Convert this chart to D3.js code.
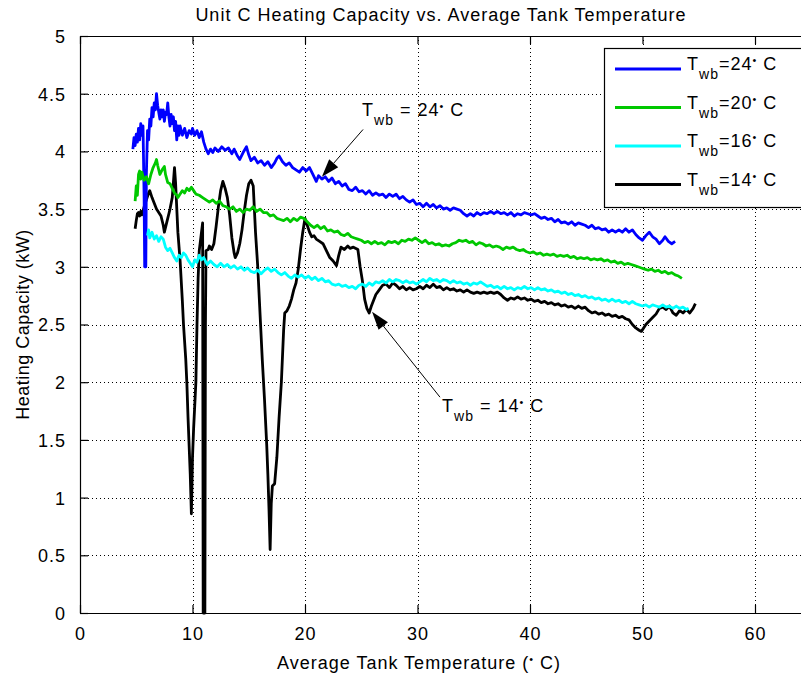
<!DOCTYPE html>
<html>
<head>
<meta charset="utf-8">
<script src="https://cdn.jsdelivr.net/npm/d3@7"></script>
<style>
  html, body { margin: 0; padding: 0; background: #fff; }
  svg { display: block; }
  text { font-family: "Liberation Sans", Arial, Helvetica, sans-serif; fill: #000; }
</style>
</head>
<body>
<svg id="chart" width="801" height="680"></svg>
<script>
// ---------------- data ----------------
const chartTitle = "Unit C Heating Capacity vs. Average Tank Temperature";
const xLabel = "Average Tank Temperature (";
const yLabel = "Heating Capacity (kW)";
const xTicks = [0, 10, 20, 30, 40, 50, 60];
const yTicks = [0, 0.5, 1, 1.5, 2, 2.5, 3, 3.5, 4, 4.5, 5];
const seriesNames = ["24", "20", "16", "14"];
const seriesColors = ["#0000ff", "#00c800", "#00ffff", "#000000"];

const tw24 = [[4.7,4.02],[4.8,4.12],[4.9,4.05],[5.0,4.15],[5.1,4.08],[5.2,4.2],[5.3,4.1],[5.4,4.24],[5.5,4.14],[5.6,4.22],[5.7,3.6],[5.75,3.0],[5.85,3.0],[5.9,3.8],[6.0,4.18],[6.1,4.1],[6.2,4.28],[6.3,4.22],[6.4,4.38],[6.5,4.3],[6.6,4.42],[6.7,4.36],[6.8,4.5],[6.9,4.4],[7.0,4.34],[7.1,4.28],[7.2,4.36],[7.3,4.3],[7.4,4.36],[7.5,4.26],[7.6,4.34],[7.7,4.32],[7.8,4.42],[7.9,4.3],[8.0,4.22],[8.1,4.32],[8.2,4.24],[8.3,4.3],[8.4,4.18],[8.5,4.26],[8.6,4.1],[8.7,4.22],[8.8,4.14],[8.9,4.22],[9.1,4.14],[9.3,4.2],[9.5,4.12],[9.7,4.18],[9.9,4.15],[10.0,4.2],[10.2,4.14],[10.4,4.18],[10.6,4.12],[10.8,4.17],[11.0,4.08],[11.2,4.02],[11.4,3.98],[11.6,4.02],[11.8,3.99],[12.0,4.03],[12.3,4.0],[12.6,4.04],[12.9,4.01],[13.2,4.03],[13.5,3.98],[13.7,4.02],[14.0,3.96],[14.2,3.93],[14.5,3.99],[14.8,4.04],[15.0,3.97],[15.2,3.92],[15.5,3.95],[15.8,3.9],[16.1,3.92],[16.4,3.88],[16.7,3.91],[17.0,3.86],[17.3,3.9],[17.5,3.94],[17.7,3.96],[18.0,3.91],[18.3,3.88],[18.6,3.9],[18.9,3.86],[19.2,3.84],[19.5,3.82],[19.8,3.86],[20.1,3.83],[20.4,3.86],[20.7,3.8],[21.0,3.74],[21.2,3.79],[21.5,3.76],[21.8,3.78],[22.1,3.74],[22.4,3.77],[22.7,3.72],[23.0,3.74],[23.3,3.7],[23.6,3.72],[23.9,3.67],[24.2,3.66],[24.5,3.69],[24.8,3.65],[25.1,3.66],[25.4,3.63],[25.7,3.66],[26.0,3.62],[26.3,3.64],[26.6,3.62],[26.9,3.63],[27.2,3.6],[27.5,3.63],[27.8,3.61],[28.1,3.63],[28.4,3.59],[28.7,3.61],[29.0,3.58],[29.3,3.56],[29.6,3.58],[29.9,3.54],[30.2,3.55],[30.5,3.52],[30.8,3.55],[31.1,3.52],[31.4,3.54],[31.7,3.51],[32.0,3.53],[32.3,3.5],[32.6,3.51],[32.9,3.49],[33.2,3.51],[33.5,3.5],[33.8,3.49],[34.1,3.46],[34.4,3.44],[34.7,3.46],[35.0,3.44],[35.3,3.47],[35.6,3.45],[35.9,3.47],[36.2,3.46],[36.5,3.48],[36.8,3.46],[37.1,3.48],[37.4,3.46],[37.7,3.47],[38.0,3.45],[38.3,3.47],[38.6,3.44],[38.9,3.46],[39.2,3.45],[39.5,3.47],[39.8,3.46],[40.1,3.45],[40.4,3.46],[40.7,3.44],[41.0,3.42],[41.3,3.43],[41.6,3.41],[41.9,3.42],[42.2,3.39],[42.5,3.41],[42.8,3.38],[43.1,3.39],[43.4,3.37],[43.7,3.39],[44.0,3.36],[44.3,3.38],[44.6,3.37],[44.9,3.36],[45.2,3.34],[45.5,3.36],[45.8,3.33],[46.1,3.34],[46.4,3.32],[46.7,3.33],[47.0,3.3],[47.3,3.32],[47.6,3.3],[47.9,3.32],[48.2,3.3],[48.5,3.33],[48.8,3.3],[49.1,3.32],[49.4,3.28],[49.7,3.25],[50.0,3.23],[50.3,3.27],[50.6,3.3],[50.9,3.26],[51.2,3.24],[51.5,3.2],[51.8,3.23],[52.0,3.26],[52.3,3.22],[52.6,3.2],[52.9,3.22]];

const tw20 = [[4.9,3.57],[5.0,3.7],[5.1,3.62],[5.2,3.8],[5.3,3.83],[5.4,3.76],[5.5,3.82],[5.7,3.75],[5.9,3.78],[6.1,3.72],[6.3,3.8],[6.5,3.86],[6.7,3.9],[6.8,3.93],[6.9,3.88],[7.1,3.8],[7.3,3.84],[7.5,3.87],[7.6,3.8],[7.8,3.73],[8.0,3.72],[8.2,3.68],[8.4,3.64],[8.6,3.62],[8.7,3.6],[8.9,3.63],[9.1,3.66],[9.3,3.64],[9.5,3.68],[9.7,3.66],[9.9,3.69],[10.1,3.66],[10.3,3.63],[10.6,3.62],[10.9,3.6],[11.2,3.58],[11.5,3.56],[11.8,3.58],[12.1,3.55],[12.4,3.57],[12.7,3.53],[13.0,3.52],[13.3,3.5],[13.6,3.52],[13.9,3.48],[14.2,3.5],[14.5,3.47],[14.8,3.5],[15.1,3.49],[15.4,3.52],[15.7,3.48],[16.0,3.5],[16.3,3.47],[16.6,3.47],[16.9,3.44],[17.2,3.45],[17.5,3.42],[17.8,3.41],[18.1,3.4],[18.4,3.42],[18.7,3.39],[19.0,3.42],[19.3,3.4],[19.6,3.43],[19.9,3.42],[20.2,3.39],[20.5,3.36],[20.8,3.34],[21.1,3.36],[21.4,3.33],[21.7,3.35],[22.0,3.31],[22.3,3.32],[22.6,3.3],[22.9,3.31],[23.2,3.28],[23.5,3.27],[23.8,3.29],[24.1,3.26],[24.4,3.25],[24.7,3.24],[25.0,3.23],[25.3,3.21],[25.6,3.22],[25.9,3.2],[26.2,3.22],[26.5,3.2],[26.8,3.21],[27.1,3.19],[27.4,3.22],[27.7,3.21],[28.0,3.22],[28.3,3.2],[28.6,3.23],[28.9,3.22],[29.2,3.24],[29.5,3.23],[29.8,3.25],[30.1,3.23],[30.4,3.21],[30.7,3.23],[31.0,3.2],[31.3,3.21],[31.6,3.19],[31.9,3.2],[32.2,3.18],[32.5,3.19],[32.8,3.18],[33.1,3.2],[33.4,3.21],[33.7,3.23],[34.0,3.22],[34.3,3.23],[34.6,3.21],[34.9,3.22],[35.2,3.19],[35.5,3.21],[35.8,3.2],[36.1,3.18],[36.4,3.19],[36.7,3.17],[37.0,3.18],[37.3,3.17],[37.6,3.15],[37.9,3.17],[38.2,3.16],[38.5,3.17],[38.8,3.15],[39.1,3.14],[39.4,3.15],[39.7,3.13],[40.0,3.12],[40.3,3.13],[40.6,3.11],[40.9,3.12],[41.2,3.1],[41.5,3.11],[41.8,3.1],[42.1,3.11],[42.4,3.09],[42.7,3.1],[43.0,3.09],[43.3,3.1],[43.6,3.08],[43.9,3.09],[44.2,3.07],[44.5,3.08],[44.8,3.07],[45.1,3.08],[45.4,3.06],[45.7,3.07],[46.0,3.06],[46.3,3.07],[46.6,3.05],[46.9,3.06],[47.2,3.04],[47.5,3.05],[47.8,3.03],[48.1,3.04],[48.4,3.02],[48.7,3.03],[49.0,3.02],[49.3,3.01],[49.6,3.0],[49.9,2.99],[50.2,2.98],[50.5,2.97],[50.8,2.98],[51.1,2.96],[51.4,2.97],[51.7,2.95],[52.0,2.96],[52.3,2.94],[52.6,2.95],[52.9,2.93],[53.2,2.92],[53.5,2.9]];

const tw16 = [[6.0,3.27],[6.1,3.32],[6.2,3.25],[6.4,3.3],[6.6,3.24],[6.8,3.27],[7.0,3.22],[7.2,3.26],[7.4,3.24],[7.6,3.17],[7.8,3.14],[8.0,3.16],[8.2,3.12],[8.4,3.08],[8.6,3.05],[8.8,3.1],[9.0,3.08],[9.2,3.12],[9.4,3.1],[9.6,3.06],[9.8,3.03],[10.0,3.0],[10.2,3.06],[10.4,3.04],[10.6,3.1],[10.8,3.06],[11.0,3.08],[11.3,3.02],[11.6,3.05],[11.9,3.02],[12.2,3.0],[12.5,3.03],[12.8,3.0],[13.1,3.02],[13.4,2.99],[13.7,3.01],[14.0,2.98],[14.3,3.0],[14.6,2.97],[14.9,2.99],[15.2,2.96],[15.5,2.95],[15.8,2.97],[16.1,2.94],[16.4,2.97],[16.7,2.99],[17.0,2.96],[17.3,2.98],[17.6,2.95],[17.9,2.93],[18.2,2.95],[18.5,2.92],[18.8,2.9],[19.1,2.93],[19.4,2.91],[19.7,2.93],[20.0,2.9],[20.3,2.92],[20.6,2.89],[20.9,2.91],[21.2,2.88],[21.5,2.9],[21.8,2.87],[22.1,2.88],[22.4,2.85],[22.7,2.84],[23.0,2.85],[23.3,2.83],[23.6,2.84],[23.9,2.82],[24.2,2.83],[24.5,2.81],[24.8,2.84],[25.1,2.85],[25.4,2.83],[25.7,2.86],[26.0,2.84],[26.3,2.87],[26.6,2.86],[26.9,2.88],[27.2,2.86],[27.5,2.89],[27.8,2.87],[28.1,2.89],[28.4,2.88],[28.7,2.86],[29.0,2.88],[29.3,2.86],[29.6,2.87],[29.9,2.85],[30.2,2.87],[30.5,2.89],[30.8,2.87],[31.1,2.9],[31.4,2.88],[31.7,2.89],[32.0,2.87],[32.3,2.89],[32.6,2.88],[32.9,2.86],[33.2,2.88],[33.5,2.86],[33.8,2.87],[34.1,2.85],[34.4,2.86],[34.7,2.84],[35.0,2.86],[35.3,2.85],[35.6,2.87],[35.9,2.85],[36.2,2.83],[36.5,2.84],[36.8,2.82],[37.1,2.83],[37.4,2.81],[37.7,2.83],[38.0,2.81],[38.3,2.82],[38.6,2.8],[38.9,2.82],[39.2,2.81],[39.5,2.83],[39.8,2.81],[40.1,2.82],[40.4,2.8],[40.7,2.82],[41.0,2.8],[41.3,2.81],[41.6,2.79],[41.9,2.8],[42.2,2.78],[42.5,2.79],[42.8,2.77],[43.1,2.78],[43.4,2.76],[43.7,2.77],[44.0,2.75],[44.3,2.76],[44.6,2.74],[44.9,2.75],[45.2,2.73],[45.5,2.74],[45.8,2.72],[46.1,2.73],[46.4,2.71],[46.7,2.72],[47.0,2.7],[47.3,2.72],[47.6,2.7],[47.9,2.71],[48.2,2.69],[48.5,2.7],[48.8,2.68],[49.1,2.7],[49.4,2.68],[49.7,2.67],[50.0,2.66],[50.3,2.67],[50.6,2.65],[50.9,2.67],[51.2,2.66],[51.5,2.65],[51.8,2.67],[52.1,2.65],[52.4,2.66],[52.7,2.64],[53.0,2.66],[53.3,2.64],[53.6,2.65],[53.9,2.63],[54.1,2.64]];

const tw14 = [[4.9,3.33],[5.0,3.4],[5.1,3.46],[5.2,3.47],[5.3,3.44],[5.4,3.48],[5.5,3.45],[5.7,3.52],[5.9,3.58],[6.1,3.64],[6.2,3.66],[6.4,3.6],[6.6,3.55],[6.8,3.5],[7.0,3.47],[7.2,3.44],[7.4,3.36],[7.5,3.3],[7.7,3.38],[7.9,3.46],[8.0,3.5],[8.2,3.6],[8.4,3.86],[8.5,3.72],[8.7,3.3],[8.9,3.05],[9.1,2.7],[9.2,2.5],[9.4,2.2],[9.5,1.99],[9.6,1.7],[9.7,1.45],[9.8,1.2],[9.9,0.86],[10.0,1.35],[10.1,1.6],[10.3,2.0],[10.4,2.5],[10.5,2.9],[10.6,3.14],[10.8,3.3],[10.9,3.38],[10.95,0.0],[11.1,0.0],[11.15,2.5],[11.2,3.14],[11.4,3.15],[11.5,3.18],[11.7,3.15],[11.9,3.2],[12.1,3.35],[12.3,3.52],[12.5,3.66],[12.7,3.74],[12.9,3.68],[13.1,3.6],[13.3,3.45],[13.5,3.25],[13.7,3.12],[13.8,3.08],[14.0,3.12],[14.2,3.2],[14.4,3.32],[14.6,3.48],[14.8,3.62],[15.0,3.72],[15.2,3.75],[15.4,3.7],[15.6,3.3],[15.8,3.0],[16.0,2.6],[16.2,2.2],[16.4,1.85],[16.6,1.45],[16.7,1.2],[16.8,0.9],[16.9,0.55],[17.0,0.95],[17.1,1.1],[17.3,1.12],[17.5,1.35],[17.7,1.7],[17.9,2.0],[18.1,2.45],[18.2,2.6],[18.4,2.62],[18.6,2.66],[18.8,2.72],[19.0,2.8],[19.2,2.86],[19.4,2.98],[19.6,3.15],[19.8,3.3],[20.0,3.42],[20.2,3.36],[20.4,3.3],[20.6,3.26],[20.8,3.27],[21.0,3.24],[21.3,3.22],[21.6,3.2],[21.9,3.14],[22.2,3.08],[22.5,3.05],[22.8,3.01],[23.0,3.1],[23.2,3.17],[23.5,3.15],[23.8,3.18],[24.0,3.16],[24.3,3.17],[24.7,3.15],[24.9,3.0],[25.1,2.88],[25.3,2.72],[25.5,2.64],[25.7,2.6],[25.9,2.66],[26.1,2.71],[26.3,2.76],[26.6,2.8],[26.9,2.84],[27.2,2.85],[27.5,2.82],[27.8,2.86],[28.1,2.84],[28.4,2.81],[28.7,2.83],[29.0,2.8],[29.3,2.82],[29.6,2.8],[29.9,2.81],[30.2,2.83],[30.5,2.81],[30.8,2.84],[31.1,2.82],[31.4,2.85],[31.7,2.82],[32.0,2.83],[32.3,2.8],[32.6,2.82],[32.9,2.8],[33.2,2.81],[33.5,2.79],[33.8,2.8],[34.1,2.78],[34.4,2.8],[34.7,2.78],[35.0,2.77],[35.3,2.78],[35.6,2.77],[35.9,2.78],[36.2,2.77],[36.5,2.78],[36.8,2.77],[37.1,2.78],[37.4,2.76],[37.7,2.73],[38.0,2.71],[38.3,2.73],[38.6,2.72],[38.9,2.74],[39.2,2.72],[39.5,2.73],[39.8,2.71],[40.1,2.72],[40.4,2.7],[40.7,2.71],[41.0,2.69],[41.3,2.7],[41.6,2.68],[41.9,2.69],[42.2,2.67],[42.5,2.68],[42.8,2.66],[43.1,2.67],[43.4,2.65],[43.7,2.66],[44.0,2.64],[44.3,2.66],[44.6,2.64],[44.9,2.65],[45.2,2.62],[45.5,2.6],[45.8,2.61],[46.1,2.59],[46.4,2.6],[46.7,2.58],[47.0,2.59],[47.3,2.57],[47.6,2.58],[47.9,2.56],[48.2,2.57],[48.5,2.55],[48.8,2.54],[49.1,2.5],[49.4,2.47],[49.7,2.45],[49.9,2.44],[50.1,2.47],[50.3,2.5],[50.6,2.53],[50.9,2.56],[51.2,2.59],[51.5,2.64],[51.8,2.65],[52.1,2.63],[52.4,2.66],[52.7,2.6],[53.0,2.58],[53.3,2.62],[53.6,2.6],[53.9,2.63],[54.2,2.6],[54.5,2.64],[54.7,2.68]];

// annotations: label value, text anchor [t, v], arrow tail [t, v], arrow tip [t, v]
const annoLabels = ["24", "14"];
const annoText = [[25.07, 4.31], [32.18, 1.74]];
const annoTail = [[25.16, 4.19], [32.0, 1.87]];
const annoTip  = [[21.5, 3.78], [25.96, 2.61]];

// ---------------- layout ----------------
const svg = d3.select("#chart");
svg.append("rect").attr("width", 801).attr("height", 680).attr("fill", "#fff");

const padL = 80, padR = 867.5, padT = 36, padB = 613;
const x = d3.scaleLinear().domain([0, 70]).range([padL, padR]);
const y = d3.scaleLinear().domain([0, 5]).range([padB, padT]);

const FS = 18, LS = 1;

// grid
const grid = svg.append("g").attr("stroke", "#000").attr("stroke-width", 1)
  .attr("stroke-dasharray", "1,3").attr("shape-rendering", "crispEdges");
xTicks.filter(d => d > 0).forEach(d => {
  grid.append("line").attr("x1", Math.round(x(d)) + 0.5).attr("x2", Math.round(x(d)) + 0.5)
    .attr("y1", padT).attr("y2", padB);
});
yTicks.filter(d => d > 0 && d < 5).forEach(d => {
  grid.append("line").attr("y1", Math.round(y(d)) + 0.5).attr("y2", Math.round(y(d)) + 0.5)
    .attr("x1", padL).attr("x2", padR);
});

// series
const line = d3.line().x(d => x(d[0])).y(d => y(d[1]));
const drawOrder = [[tw14, 3], [tw24, 0], [tw20, 1], [tw16, 2]];
const lines = svg.append("g");
drawOrder.forEach(([data, i]) => {
  lines.append("path").datum(data).attr("d", line)
    .attr("fill", "none").attr("stroke", seriesColors[i])
    .attr("stroke-width", 2.8).attr("stroke-linejoin", "round");
});

// axes (box with inward ticks)
const xAxisB = d3.axisBottom(x).tickValues(xTicks).tickSizeInner(-8).tickSizeOuter(0).tickPadding(14);
const xAxisT = d3.axisTop(x).tickValues(xTicks).tickSizeInner(-8).tickSizeOuter(0).tickFormat("");
const yAxisL = d3.axisLeft(y).tickValues(yTicks).tickSizeInner(-8).tickSizeOuter(0).tickPadding(14)
  .tickFormat(d3.format("~g"));

const gxb = svg.append("g").attr("transform", `translate(0,${padB})`).call(xAxisB);
const gxt = svg.append("g").attr("transform", `translate(0,${padT})`).call(xAxisT);
const gyl = svg.append("g").attr("transform", `translate(${padL},0)`).call(yAxisL);
[gxb, gxt, gyl].forEach(g => {
  g.selectAll(".domain").attr("stroke", "#000").attr("stroke-width", 1.2);
  g.selectAll(".tick line").attr("stroke", "#000").attr("stroke-width", 1.2);
  g.selectAll("text").attr("font-family", "Liberation Sans, Arial, sans-serif")
    .attr("font-size", FS).attr("letter-spacing", LS).attr("fill", "#000");
});
gyl.selectAll("text").attr("dy", "0.36em");

// helper: T_wb = NN • C text
function twbText(g, xPos, yPos, val, spaced, fs) {
  const t = g.append("text").attr("x", xPos).attr("y", yPos)
    .attr("font-size", fs).attr("letter-spacing", LS);
  t.append("tspan").text("T");
  t.append("tspan").attr("font-size", fs * 0.78).attr("dy", 9).text("wb");
  t.append("tspan").attr("dy", -9).text(spaced ? " = " + val : "=" + val);
  t.append("tspan").attr("font-size", fs * 0.6).attr("dy", -6).text("\u2022");
  t.append("tspan").attr("dy", 6).text(" C");
  return t;
}

// annotations
const anno = svg.append("g");
annoLabels.forEach((lab, i) => {
  const x1 = x(annoTail[i][0]), y1 = y(annoTail[i][1]);
  const x2 = x(annoTip[i][0]), y2 = y(annoTip[i][1]);
  const ang = Math.atan2(y2 - y1, x2 - x1);
  const hl = 18, hw = 6;
  const bx = x2 - hl * Math.cos(ang), by = y2 - hl * Math.sin(ang);
  anno.append("line").attr("x1", x1).attr("y1", y1).attr("x2", bx).attr("y2", by)
    .attr("stroke", "#000").attr("stroke-width", 1);
  const p1 = [bx + hw * Math.sin(ang), by - hw * Math.cos(ang)];
  const p2 = [bx - hw * Math.sin(ang), by + hw * Math.cos(ang)];
  anno.append("path").attr("d", `M${x2},${y2}L${p1[0]},${p1[1]}L${p2[0]},${p2[1]}Z`)
    .attr("fill", "#000");
  twbText(anno, x(annoText[i][0]), y(annoText[i][1]), lab, true, FS);
});

// legend
const lg = svg.append("g");
lg.append("rect").attr("x", 604.5).attr("y", 48.5).attr("width", 240).attr("height", 159)
  .attr("fill", "#fff").attr("stroke", "#000").attr("stroke-width", 1.2);
seriesNames.forEach((nm, i) => {
  const ly = 69 + i * 38.5;
  lg.append("line").attr("x1", 615).attr("x2", 681).attr("y1", ly).attr("y2", ly)
    .attr("stroke", seriesColors[i]).attr("stroke-width", 3);
  twbText(lg, 687, ly + 1, nm, false, FS);
});

// title and axis labels
svg.append("text").attr("x", 441).attr("y", 21).attr("text-anchor", "middle")
  .attr("font-size", FS).attr("letter-spacing", LS).text(chartTitle);

const xl = svg.append("text").attr("x", 419).attr("y", 669).attr("text-anchor", "middle")
  .attr("font-size", FS).attr("letter-spacing", LS);
xl.append("tspan").text(xLabel);
xl.append("tspan").attr("font-size", FS * 0.6).attr("dy", -6).text("\u2022");
xl.append("tspan").attr("dy", 6).text(" C)");

svg.append("text").attr("transform", `translate(29,${(padT + padB) / 2}) rotate(-90)`)
  .attr("text-anchor", "middle").attr("font-size", FS).attr("letter-spacing", 0.5).text(yLabel);
</script>
</body>
</html>
